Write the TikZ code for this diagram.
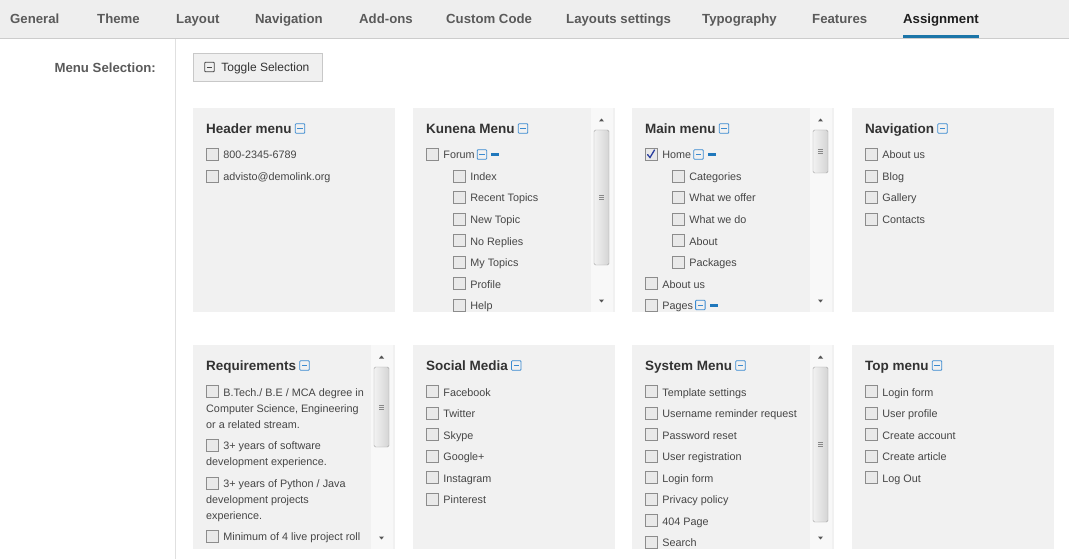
\documentclass[tikz,border=0pt]{standalone}
\usepackage{fontspec}
\setmainfont{Liberation Sans}
\usetikzlibrary{positioning}

\definecolor{tabBg}{HTML}{EEEEEE}
\definecolor{tabLine}{HTML}{CCCCCC}
\definecolor{tabText}{HTML}{5A5A5A}
\definecolor{tabActive}{HTML}{1E1E1E}
\definecolor{tabBlue}{HTML}{1B75A8}
\definecolor{sideLine}{HTML}{E0E0E0}
\definecolor{panelBg}{HTML}{F1F1F1}
\definecolor{headText}{HTML}{333333}
\definecolor{itemText}{HTML}{454545}
\definecolor{iconBlue}{HTML}{3A8AD0}
\definecolor{iconGray}{HTML}{444444}
\definecolor{barBlue}{HTML}{2078BC}
\definecolor{checkBlue}{HTML}{2B40A0}
\definecolor{chkLine}{HTML}{8C8C8C}
\definecolor{chkFill}{HTML}{E9E9E9}
\definecolor{btnLine}{HTML}{C8C8C8}
\definecolor{btnFill}{HTML}{F0F0F0}
\definecolor{scrollTrack}{HTML}{F8F8F8}
\definecolor{thumbLine}{HTML}{A5A5A5}
\definecolor{thumbLight}{HTML}{F2F2F2}
\definecolor{thumbDark}{HTML}{D4D4D4}
\definecolor{arrowGray}{HTML}{555555}

\def\panelWidth{202}
\def\panelHeight{204}
\def\headY{20.5}
\def\itemTop{46.5}
\def\itemStep{21.5}
\def\subIndent{27}
\def\lineStep{16}

\tikzset{
  tab/.style={font=\fontsize{13.2}{16}\selectfont\bfseries, text=tabText,
    anchor=west, inner sep=0pt, text height=10pt, text depth=0pt},
  heading/.style={font=\fontsize{13.5}{16}\selectfont\bfseries, text=headText,
    anchor=west, inner sep=0pt, text height=10pt, text depth=0pt},
  item/.style={font=\fontsize{10.8}{13}\selectfont, text=itemText,
    anchor=west, inner sep=0pt, text height=9pt, text depth=0pt},
  chk/.style={draw=chkLine, fill=chkFill, minimum size=12pt, inner sep=0pt},
  collapse/.style={draw=#1, rounded corners=0.8pt, line width=0.8pt,
    minimum size=9.5pt, inner sep=0pt,
    path picture={\draw[#1, line width=0.8pt]
      ([xshift=2pt]path picture bounding box.west)
      -- ([xshift=-2pt]path picture bounding box.east);}},
  collapse/.default=iconBlue,
  bar/.style={fill=barBlue, minimum width=8pt, minimum height=3pt, inner sep=0pt},
}

\begin{document}
\begin{tikzpicture}[x=1pt, y=-1pt]
  \useasboundingbox (0,0) rectangle (1069,559);
  \fill[white] (0,0) rectangle (1069,559);

  %% tab bar
  \fill[tabBg] (0,0) rectangle (1069,38);
  \draw[tabLine] (0,38.5) -- (1069,38.5);
  \foreach \x/\t [count=\i] in {10/General, 97/Theme, 176/Layout, 255/Navigation,
      359/Add-ons, 446/Custom Code, 566/Layouts settings, 702/Typography, 812/Features}
    \node[tab] (tab\i) at (\x,18.5) {\t};
  \node[tab, text=tabActive] (tabAssign) at (903,18.5) {Assignment};
  \coordinate (tabBase) at (0,35);
  \coordinate (tabEdge) at (0,38.5);
  \fill[tabBlue] (tabAssign.west |- tabBase) rectangle (tabAssign.east |- tabEdge);

  %% side label and toggle button
  \draw[sideLine] (175.5,39) -- (175.5,559);
  \node[tab, anchor=east] (menuSel) at (156,67.5) {Menu Selection:};
  \node[draw=btnLine, fill=btnFill, minimum width=129pt, minimum height=28pt,
    inner sep=0pt, anchor=north west] (toggleBtn) at (193,53) {};
  \node[collapse=iconGray] (toggleIcon) at (209.5,67) {};
  \node[item, font=\fontsize{12}{14}\selectfont, text=headText, text height=9.5pt,
    right=6.5pt of toggleIcon] (toggleTxt) {Toggle Selection};

  %% panels
  \foreach \px in {193,413,632,852}
    \foreach \py in {108,345}
      \fill[panelBg] (\px,\py) rectangle ++(\panelWidth,\panelHeight);

  %% header menu
  \begin{scope}[shift={(193,108)}]
    \node[heading] (headerHead) at (13,\headY) {Header menu};
    \node[collapse, right=3pt of headerHead] (headerIcon) {};
    \foreach \t [count=\i] in {800-2345-6789, advisto@demolink.org} {
      \node[chk] (headerChk\i) at (19,{\itemTop+\itemStep*(\i-1)}) {};
      \node[item, right=5pt of headerChk\i] (headerTxt\i) {\t};
    }
  \end{scope}

  %% kunena menu
  \begin{scope}[shift={(413,108)}]
    \clip (0,0) rectangle (\panelWidth,\panelHeight);
    \node[heading] (kunenaHead) at (13,\headY) {Kunena Menu};
    \node[collapse, right=3pt of kunenaHead] (kunenaIcon) {};
    \foreach \lv/\t [count=\i] in {0/Forum, 1/Index, 1/Recent Topics, 1/New Topic,
        1/No Replies, 1/My Topics, 1/Profile, 1/Help} {
      \node[chk] (kunenaChk\i) at ({19+\subIndent*\lv},{\itemTop+\itemStep*(\i-1)}) {};
      \node[item, right=5pt of kunenaChk\i] (kunenaTxt\i) {\t};
    }
    \node[collapse, right=2pt of kunenaTxt1] (kunenaIcon1) {};
    \node[bar, right=4pt of kunenaIcon1] (kunenaBar1) {};
  \end{scope}

  %% main menu
  \begin{scope}[shift={(632,108)}]
    \clip (0,0) rectangle (\panelWidth,\panelHeight);
    \node[heading] (mainHead) at (13,\headY) {Main menu};
    \node[collapse, right=3pt of mainHead] (mainIcon) {};
    \foreach \lv/\t [count=\i] in {0/Home, 1/Categories, 1/What we offer, 1/What we do,
        1/About, 1/Packages, 0/About us, 0/Pages} {
      \node[chk] (mainChk\i) at ({19+\subIndent*\lv},{\itemTop+\itemStep*(\i-1)}) {};
      \node[item, right=5pt of mainChk\i] (mainTxt\i) {\t};
    }
    \draw[checkBlue, line width=1.3pt, line cap=round]
      ([xshift=-3.5pt]mainChk1.center) -- ++(2.5,3) -- ++(4.5,-7.5);
    \node[collapse, right=2pt of mainTxt1] (mainIcon1) {};
    \node[bar, right=4pt of mainIcon1] (mainBar1) {};
    \node[collapse, right=2pt of mainTxt8] (mainIcon8) {};
    \node[bar, right=4pt of mainIcon8] (mainBar8) {};
  \end{scope}

  %% navigation
  \begin{scope}[shift={(852,108)}]
    \node[heading] (navHead) at (13,\headY) {Navigation};
    \node[collapse, right=3pt of navHead] (navIcon) {};
    \foreach \t [count=\i] in {About us, Blog, Gallery, Contacts} {
      \node[chk] (navChk\i) at (19,{\itemTop+\itemStep*(\i-1)}) {};
      \node[item, right=5pt of navChk\i] (navTxt\i) {\t};
    }
  \end{scope}

  %% requirements
  \begin{scope}[shift={(193,345)}]
    \node[heading] (reqHead) at (13,\headY) {Requirements};
    \node[collapse, right=3pt of reqHead] (reqIcon) {};
    \node[chk] (reqChk1) at (19,\itemTop) {};
    \node[item, right=5pt of reqChk1] (reqTxt1) {B.Tech./ B.E / MCA degree in};
    \node[item] (reqTxt1b) at (13,{\itemTop+\lineStep}) {Computer Science, Engineering};
    \node[item] (reqTxt1c) at (13,{\itemTop+2*\lineStep}) {or a related stream.};
    \node[chk] (reqChk2) at (19,100) {};
    \node[item, right=5pt of reqChk2] (reqTxt2) {3+ years of software};
    \node[item] (reqTxt2b) at (13,{100+\lineStep}) {development experience.};
    \node[chk] (reqChk3) at (19,138) {};
    \node[item, right=5pt of reqChk3] (reqTxt3) {3+ years of Python / Java};
    \node[item] (reqTxt3b) at (13,{138+\lineStep}) {development projects};
    \node[item] (reqTxt3c) at (13,{138+2*\lineStep}) {experience.};
    \node[chk] (reqChk4) at (19,191) {};
    \node[item, right=5pt of reqChk4] (reqTxt4) {Minimum of 4 live project roll};
  \end{scope}

  %% social media
  \begin{scope}[shift={(413,345)}]
    \node[heading] (socialHead) at (13,\headY) {Social Media};
    \node[collapse, right=3pt of socialHead] (socialIcon) {};
    \foreach \t [count=\i] in {Facebook, Twitter, Skype, Google+, Instagram, Pinterest} {
      \node[chk] (socialChk\i) at (19,{\itemTop+\itemStep*(\i-1)}) {};
      \node[item, right=5pt of socialChk\i] (socialTxt\i) {\t};
    }
  \end{scope}

  %% system menu
  \begin{scope}[shift={(632,345)}]
    \clip (0,0) rectangle (\panelWidth,\panelHeight);
    \node[heading] (sysHead) at (13,\headY) {System Menu};
    \node[collapse, right=3pt of sysHead] (sysIcon) {};
    \foreach \t [count=\i] in {Template settings, Username reminder request,
        Password reset, User registration, Login form, Privacy policy, 404 Page, Search} {
      \node[chk] (sysChk\i) at (19,{\itemTop+\itemStep*(\i-1)}) {};
      \node[item, right=5pt of sysChk\i] (sysTxt\i) {\t};
    }
  \end{scope}

  %% top menu
  \begin{scope}[shift={(852,345)}]
    \node[heading] (topHead) at (13,\headY) {Top menu};
    \node[collapse, right=3pt of topHead] (topIcon) {};
    \foreach \t [count=\i] in {Login form, User profile, Create account,
        Create article, Log Out} {
      \node[chk] (topChk\i) at (19,{\itemTop+\itemStep*(\i-1)}) {};
      \node[item, right=5pt of topChk\i] (topTxt\i) {\t};
    }
  \end{scope}

  %% scrollbars
  \foreach \px/\py/\ta/\tb in {413/108/22/157, 632/108/22/65,
      193/345/22/102, 632/345/22/177} {
    \begin{scope}[shift={(\px,\py)}]
      \fill[scrollTrack] (178,0) rectangle (199.5,\panelHeight);
      \draw[thumbLine, left color=thumbLight, right color=thumbDark,
        rounded corners=1.5pt] (181,\ta) rectangle (196,\tb);
      \foreach \g in {-2,0,2}
        \draw[arrowGray!70, line width=0.6pt] (186,{(\ta+\tb)/2+\g}) -- ++(5,0);
      \fill[arrowGray] (188.5,10.5) -- ++(2.5,3) -- ++(-5,0) -- cycle;
      \fill[arrowGray] (188.5,194.5) -- ++(2.5,-3) -- ++(-5,0) -- cycle;
    \end{scope}
  }
\end{tikzpicture}
\end{document}
